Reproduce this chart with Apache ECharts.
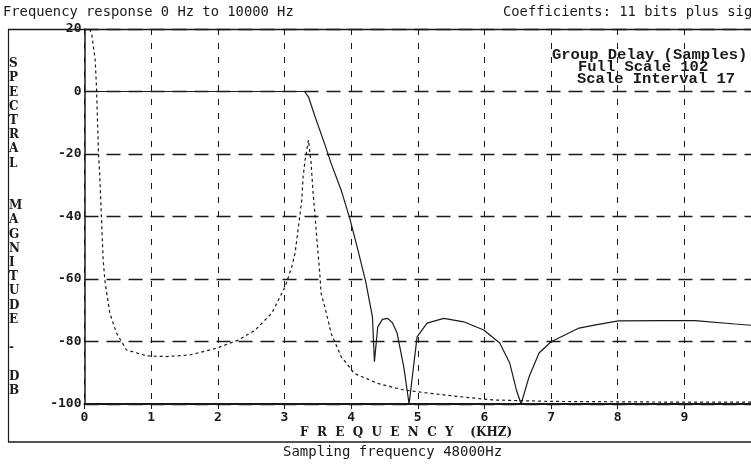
<!DOCTYPE html>
<html><head><meta charset="utf-8">
<script src="https://cdn.jsdelivr.net/npm/echarts@6/dist/echarts.min.js"></script>
<style>html,body{margin:0;padding:0;background:#fff}#c{width:751px;height:468px}</style>
</head><body><div id="c"></div>
<script>
// ---- data ----
const xTickLabels = ['0','1','2','3','4','5','6','7','8','9'];
const yTickValues = [20, 0, -20, -40, -60, -80, -100];

// Spectral magnitude (dB) vs frequency (kHz)
const magFreq = [0, 3.30, 3.36, 3.46, 3.60, 3.65, 3.70, 3.85, 3.95, 3.98, 4.10, 4.22, 4.32, 4.35, 4.40, 4.47, 4.55, 4.62, 4.69, 4.79, 4.87, 4.99, 5.14, 5.39, 5.69, 5.99, 6.23, 6.38, 6.48, 6.55, 6.67, 6.82, 7.00, 7.42, 7.67, 8.01, 8.67, 9.16, 9.76, 10.0];
const magDb   = [0, 0, -1.7, -8.1, -16.6, -19.8, -23.0, -31.5, -38.5, -40.6, -50.5, -60.9, -72.1, -86.5, -75.3, -72.9, -72.6, -74.0, -77.3, -88.1, -100, -78.5, -74.1, -72.6, -73.7, -76.3, -80.5, -86.9, -95.5, -100, -91.3, -83.7, -80.1, -75.7, -74.7, -73.4, -73.3, -73.3, -74.4, -74.8];

// Group delay (samples), full scale 102, scale interval 17
const gdFreq    = [0.08, 0.11, 0.16, 0.18, 0.19, 0.21, 0.23, 0.28, 0.31, 0.38, 0.48, 0.63, 0.93, 1.22, 1.57, 1.97, 2.31, 2.56, 2.81, 3.01, 3.11, 3.16, 3.21, 3.26, 3.28, 3.31, 3.36, 3.40, 3.43, 3.46, 3.50, 3.53, 3.55, 3.63, 3.70, 3.85, 4.05, 4.40, 4.79, 5.14, 5.63, 6.13, 7.0, 8.0, 9.0, 10.0];
const gdSamples = [102, 100.4, 93.6, 86.3, 80.0, 68.3, 61.7, 39.2, 32.9, 24.7, 19.3, 14.7, 13.1, 12.9, 13.3, 15.1, 17.4, 20.1, 24.7, 31.9, 37.3, 41.1, 48.2, 55.5, 61.8, 66.4, 71.8, 65.5, 57.3, 50.9, 41.9, 35.6, 30.1, 24.7, 19.2, 12.9, 8.3, 5.6, 3.8, 3.0, 2.0, 1.1, 0.7, 0.6, 0.5, 0.5];

const titleLeft = 'Frequency response 0 Hz to 10000 Hz';
const titleRight = 'Coefficients: 11 bits plus sign';
const yTitle = 'SPECTRAL  MAGNITUDE - DB';
const xTitle = 'F  R  E  Q  U  E  N  C  Y    (KHZ)';
const footer = 'Sampling frequency 48000Hz';
const gdLegend = ['Group Delay (Samples)', 'Full Scale 102', 'Scale Interval 17'];

// ---- chart ----
const chart = echarts.init(document.getElementById('c'), null, {renderer: 'canvas'});
const ink = '#1a1a1a';
const mono = '"DejaVu Sans Mono", monospace';
const serif = '"DejaVu Serif", serif';
const slab = '"Liberation Mono", monospace';

const graphics = [
  {type: 'text', left: 3, top: 5, style: {text: titleLeft, font: '13.8px ' + mono, fill: ink}},
  {type: 'text', left: 503, top: 5, style: {text: titleRight, font: '13.8px ' + mono, fill: ink}},
  {type: 'line', shape: {x1: 8, y1: 29.5, x2: 751, y2: 29.5}, style: {stroke: ink, lineWidth: 1.5}},
  {type: 'line', shape: {x1: 8.5, y1: 29, x2: 8.5, y2: 442}, style: {stroke: ink, lineWidth: 1.2}},
  {type: 'line', shape: {x1: 8, y1: 442, x2: 751, y2: 442}, style: {stroke: ink, lineWidth: 1.5}},
  {type: 'text', left: 300, top: 427, style: {text: xTitle, font: 'bold 12px ' + serif, fill: ink}},
  {type: 'text', left: 283, top: 445, style: {text: footer, font: '14px ' + mono, fill: ink}},
  {type: 'text', left: 552, top: 47, style: {text: gdLegend[0], font: 'bold 15.5px ' + slab, fill: ink}},
  {type: 'text', left: 578, top: 59, style: {text: gdLegend[1], font: 'bold 15.5px ' + slab, fill: ink}},
  {type: 'text', left: 577, top: 71, style: {text: gdLegend[2], font: 'bold 15.5px ' + slab, fill: ink}},
  {type: 'text', left: 9, top: 57, style: {text: yTitle.split('').join('\n'), font: 'bold 12px ' + serif, fill: ink, lineHeight: 14.2, align: 'center', width: 14}}
];

chart.setOption({
  backgroundColor: '#fff',
  animation: false,
  grid: {left: 84.5, top: 29, width: 672, height: 375},
  xAxis: {
    type: 'value', min: 0, max: 10, interval: 1,
    axisLine: {onZero: false, lineStyle: {color: ink, width: 2}},
    axisTick: {show: true, length: 5, lineStyle: {color: ink}},
    axisLabel: {
      color: ink, fontFamily: mono, fontWeight: 'bold', fontSize: 13, margin: 7,
      showMaxLabel: false,
      formatter: v => xTickLabels[Math.round(v)] !== undefined ? xTickLabels[Math.round(v)] : ''
    },
    splitLine: {show: true, lineStyle: {color: ink, width: 1, type: [6, 8]}}
  },
  yAxis: [
    {
      type: 'value', min: -100, max: 20, interval: 20,
      axisLine: {show: true, lineStyle: {color: ink, width: 1.5}},
      axisTick: {show: false},
      axisLabel: {
        color: ink, fontFamily: mono, fontWeight: 'bold', fontSize: 13, margin: 3,
        formatter: v => yTickValues.includes(v) ? String(v) : ''
      },
      splitLine: {show: true, lineStyle: {color: ink, width: 1.3, type: [14, 8]}}
    },
    {type: 'value', min: 0, max: 102, interval: 17, show: false, splitLine: {show: false}}
  ],
  series: [
    {
      type: 'line', name: 'Magnitude', yAxisIndex: 0, symbol: 'none', smooth: false,
      data: magFreq.map((f, i) => [f, magDb[i]]),
      lineStyle: {color: ink, width: 1.2}, z: 3
    },
    {
      type: 'line', name: 'Group delay', yAxisIndex: 1, symbol: 'none', smooth: false,
      data: gdFreq.map((f, i) => [f, gdSamples[i]]),
      lineStyle: {color: ink, width: 1.2, type: [3, 3]}, z: 3
    }
  ],
  graphic: graphics
});
</script>
</body></html>
